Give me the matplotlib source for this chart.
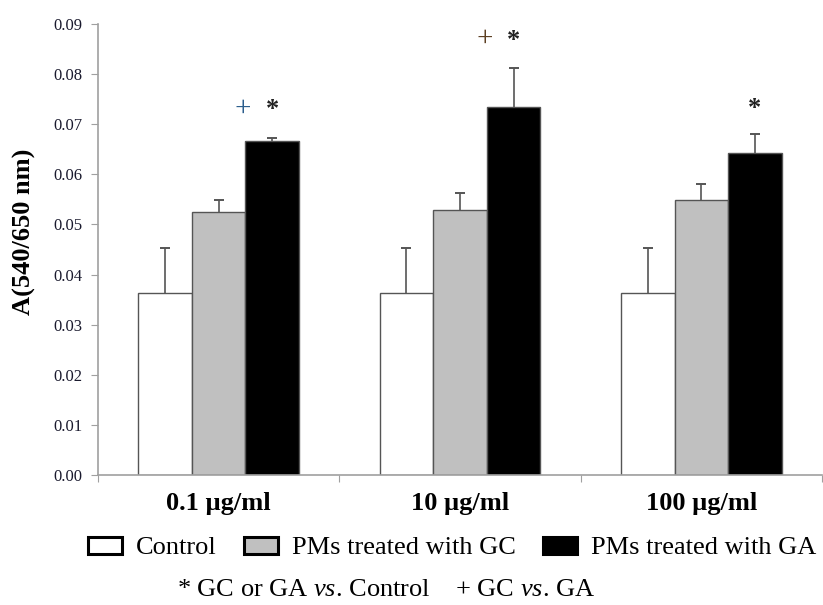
import matplotlib
matplotlib.use("Agg")
import matplotlib.pyplot as plt
from matplotlib.patches import Patch
import numpy as np

plt.rcParams['font.family'] = ['Liberation Serif', 'DejaVu Serif']
plt.rcParams['mathtext.fontset'] = 'custom'
plt.rcParams['mathtext.rm'] = 'Liberation Serif'
plt.rcParams['mathtext.it'] = 'Liberation Serif:italic'

# data
doses = ["0.1 \u00b5g/ml", "10 \u00b5g/ml", "100 \u00b5g/ml"]
series = ["Control", "PMs treated with GC", "PMs treated with GA"]
control = [0.0363, 0.0363, 0.0363]
control_err = [0.0090, 0.0090, 0.0090]
gc = [0.0525, 0.0529, 0.0549]
gc_err = [0.0024, 0.0034, 0.0032]
ga = [0.0667, 0.0734, 0.0643]
ga_err = [0.0006, 0.0078, 0.0038]

# significance marks: (group, symbol, x offset, y)
marks = [(0, "+", 0.10, 0.0731), (0, "*", 0.222, 0.0729),
         (1, "+", 0.104, 0.0870), (1, "*", 0.222, 0.0868),
         (2, "*", 0.222, 0.0732)]

fig = plt.figure(figsize=(8.23, 6.05), dpi=100)
ax = fig.add_axes([98/823, 130/605, 724/823, 451/605])

x = np.arange(len(doses))
w = 0.222
colors = ["white", "#c0c0c0", "black"]
vals = [control, gc, ga]
errs = [control_err, gc_err, ga_err]
for i, (v, e, c) in enumerate(zip(vals, errs, colors)):
    pos = x + (i - 1) * w
    v = np.array(v)
    e = np.array(e)
    ax.bar(pos, v, w, color=c, edgecolor="#555555", linewidth=1.0, zorder=2)
    # upper error bars only
    ax.vlines(pos, v, v + e, color="#555555", linewidth=1.2, zorder=3)
    ax.plot(pos, v + e, linestyle="none", marker="_", markersize=7,
            markeredgewidth=1.4, color="#555555", zorder=3)

for g, sym, dx, y in marks:
    if sym == "+":
        col = "#2b5d8c" if g == 0 else "#5c3f22"
        ax.text(g + dx, y, sym, ha="center", va="center", fontsize=21, color=col)
    else:
        ax.text(g + dx, y, sym, ha="center", va="center", fontsize=19,
                color="#222222", fontweight="bold")

ax.set_xlim(-0.5, 2.5)
ax.set_ylim(0, 0.09)
ax.set_yticks(np.arange(0, 0.091, 0.01))
ax.set_yticklabels(["%.2f" % t for t in np.arange(0, 0.091, 0.01)])
ax.tick_params(axis="y", labelsize=12, length=5, color="#a0a0a0",
               labelcolor="#1a1a2e", pad=6)

ax.set_xticks([-0.5, 0.5, 1.5, 2.5])
ax.set_xticklabels([])
ax.set_xticks(x, minor=True)
ax.set_xticklabels(doses, minor=True, fontsize=19, fontweight="bold")
ax.tick_params(axis="x", which="major", length=5, color="#a0a0a0")
ax.tick_params(axis="x", which="minor", length=0, pad=12)

for s in ["top", "right"]:
    ax.spines[s].set_visible(False)
for s in ["left", "bottom"]:
    ax.spines[s].set_color("#a0a0a0")
    ax.spines[s].set_linewidth(1.2)

fig.text(24/823, 1 - 232/605, "A(540/650 nm)", rotation=90, ha="center",
         va="center", fontsize=19, fontweight="bold")

handles = [Patch(facecolor=c, edgecolor="black", linewidth=2.2, joinstyle="round")
           for c in ["white", "#c0c0c0", "black"]]
fig.legend(handles, series, loc="center", bbox_to_anchor=(452/823, 1 - 548/605),
           ncol=3, frameon=False, fontsize=19, handlelength=1.3, handleheight=0.62,
           handletextpad=0.5, columnspacing=1.05, borderaxespad=0)

fig.text(386/823, 1 - 590/605,
         r"* GC or GA $\mathit{vs}$. Control    + GC $\mathit{vs}$. GA",
         ha="center", va="center", fontsize=19)

fig.savefig("out.png", dpi=100)
